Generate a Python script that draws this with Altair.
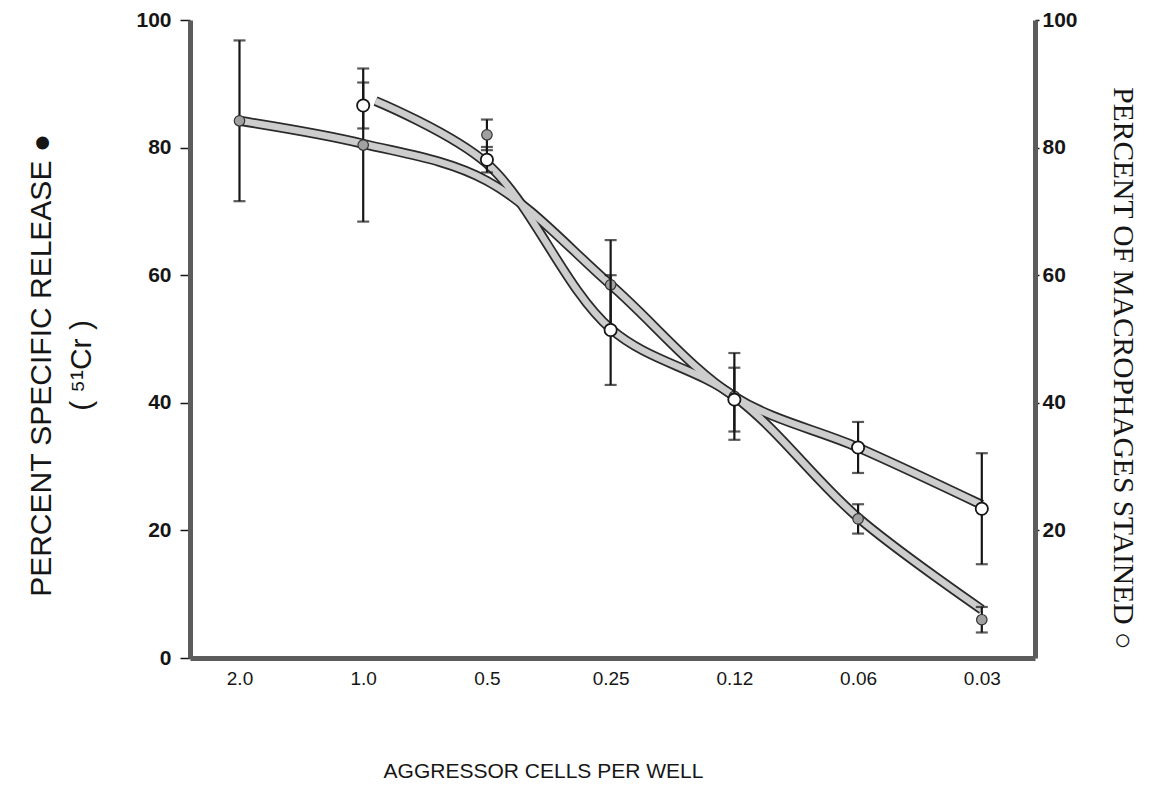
import json

import altair as alt
import pandas as pd

# Dilution series of aggressor cells per well (left to right = decreasing dose)
dose_labels = ["2.0", "1.0", "0.5", "0.25", "0.12", "0.06", "0.03"]
dose_step = [0, 1, 2, 3, 4, 5, 6]

# 51Cr specific release (filled symbols, left axis): mean and +/- error
release_mean = [84.2, 80.4, 82.0, 58.5, 41.0, 21.8, 6.0]
release_err = [12.6, 12.0, 2.4, 7.0, 6.8, 2.3, 2.0]

# Percent of macrophages stained (open symbols, right axis)
stained_mean = [None, 86.6, 78.1, 51.4, 40.5, 33.0, 23.4]
stained_err = [None, 3.6, 2.0, 8.6, 5.0, 4.0, 8.7]

# Hand-fitted curves through the two data sets
curve_a_step = [0, 1, 2, 3, 4, 5, 6]
curve_a_value = [84.2, 80.6, 74.8, 58.5, 41.0, 33.0, 24.0]
curve_b_step = [1.1, 2, 3, 4, 5, 6]
curve_b_value = [87.3, 77.5, 51.6, 41.0, 22.0, 7.6]


def point_table(steps, means, errs):
    rows = []
    for s, m, e in zip(steps, means, errs):
        if m is None:
            continue
        rows.append({"step": s, "v": m, "lo": m - e, "hi": m + e})
    return pd.DataFrame(rows)


def cap_table(points):
    return pd.DataFrame(
        [{"step": r.step, "v": r.lo} for r in points.itertuples()]
        + [{"step": r.step, "v": r.hi} for r in points.itertuples()]
    )


release = point_table(dose_step, release_mean, release_err)
stained = point_table(dose_step, stained_mean, stained_err)
release_caps = cap_table(release)
stained_caps = cap_table(stained)

curves = pd.DataFrame(
    [{"step": s, "v": v, "curve": "a"} for s, v in zip(curve_a_step, curve_a_value)]
    + [{"step": s, "v": v, "curve": "b"} for s, v in zip(curve_b_step, curve_b_value)]
)

INK = "#161616"
FRAME = "#5c5c5c"

x_axis = alt.Axis(
    values=dose_step,
    labelExpr=json.dumps(dose_labels) + "[datum.value]",
    title="AGGRESSOR CELLS PER WELL",
    titleX=353,
    titleY=119,
    titleAlign="center",
    titleBaseline="alphabetic",
    titleFont="Liberation Sans",
    titleFontSize=21,
    titleFontWeight="normal",
    titleColor=INK,
    labelFont="Liberation Sans",
    labelFontSize=19,
    labelColor=INK,
    labelPadding=11,
    ticks=False,
    grid=False,
    domainColor=FRAME,
    domainWidth=5,
)
x_enc = alt.X(
    "step:Q",
    scale=alt.Scale(domain=[-0.4, 6.43], nice=False, zero=False),
    axis=x_axis,
)

y_scale = alt.Scale(domain=[0, 100], nice=False)

left_axis = alt.Axis(
    orient="left",
    values=[0, 20, 40, 60, 80, 100],
    title=["PERCENT SPECIFIC RELEASE ●", "( ⁵¹Cr )"],
    titleAngle=-90,
    titleX=-140,
    titleY=345,
    titleAlign="center",
    titleBaseline="alphabetic",
    titleLineHeight=40,
    titleFont="Liberation Sans",
    titleFontSize=30,
    titleFontWeight="normal",
    titleColor=INK,
    labelFont="Liberation Sans",
    labelFontSize=21,
    labelFontWeight="bold",
    labelColor=INK,
    labelPadding=9,
    tickSize=10,
    tickWidth=1.5,
    tickColor=INK,
    grid=False,
    domainColor=FRAME,
    domainWidth=5,
)

right_axis = alt.Axis(
    orient="right",
    values=[20, 40, 60, 80, 100],
    title="PERCENT OF MACROPHAGES STAINED ○",
    titleAngle=90,
    titleX=78,
    titleY=348,
    titleAlign="center",
    titleBaseline="alphabetic",
    titleFont="Liberation Serif",
    titleFontSize=29.5,
    titleFontWeight="normal",
    titleColor=INK,
    labelFont="Liberation Sans",
    labelFontSize=21,
    labelFontWeight="bold",
    labelColor=INK,
    labelPadding=3,
    tickSize=4,
    tickWidth=1.5,
    tickColor=INK,
    grid=False,
    domainColor=FRAME,
    domainWidth=5,
)

y_left = alt.Y("v:Q", scale=y_scale, axis=left_axis)
y_left_lo = alt.Y("lo:Q", scale=y_scale, axis=left_axis)
y_right = alt.Y("v:Q", scale=y_scale, axis=right_axis)
y_right_lo = alt.Y("lo:Q", scale=y_scale, axis=right_axis)

# Thick banded curves: dark outline under a light core
curve_edge = alt.Chart(curves).mark_line(
    interpolate="catmull-rom", color="#2a2a2a", strokeWidth=10, strokeCap="butt"
).encode(x=x_enc, y=y_left, detail="curve:N")
curve_core = alt.Chart(curves).mark_line(
    interpolate="catmull-rom", color="#cdcdcd", strokeWidth=6.5, strokeCap="butt"
).encode(x=x_enc, y=y_left, detail="curve:N")

release_bar = alt.Chart(release).mark_rule(color=INK, strokeWidth=2.2).encode(
    x=x_enc, y=y_left_lo, y2="hi:Q"
)
release_cap = alt.Chart(release_caps).mark_tick(
    orient="horizontal", color=INK, thickness=2.2, size=12
).encode(x=x_enc, y=y_left)
release_pts = alt.Chart(release).mark_point(
    shape="circle", filled=True, size=110, fill="#a0a0a0", stroke="#333333",
    strokeWidth=1.2, opacity=1
).encode(x=x_enc, y=y_left)

left = alt.layer(curve_edge, curve_core, release_bar, release_cap, release_pts)

stained_bar = alt.Chart(stained).mark_rule(color=INK, strokeWidth=2.2).encode(
    x=x_enc, y=y_right_lo, y2="hi:Q"
)
stained_cap = alt.Chart(stained_caps).mark_tick(
    orient="horizontal", color=INK, thickness=2.2, size=12
).encode(x=x_enc, y=y_right)
stained_pts = alt.Chart(stained).mark_point(
    shape="circle", filled=True, size=150, fill="white", stroke=INK,
    strokeWidth=1.8, opacity=1
).encode(x=x_enc, y=y_right)

right = alt.layer(stained_bar, stained_cap, stained_pts)

chart = (
    alt.layer(left, right)
    .resolve_scale(y="independent")
    .properties(
        width=845,
        height=638,
        autosize="none",
        padding={"left": 190, "top": 20, "right": 125, "bottom": 135},
        background="white",
    )
    .configure_view(stroke=None)
)

chart.save("out.html", embed_options={"renderer": "svg", "actions": False})
